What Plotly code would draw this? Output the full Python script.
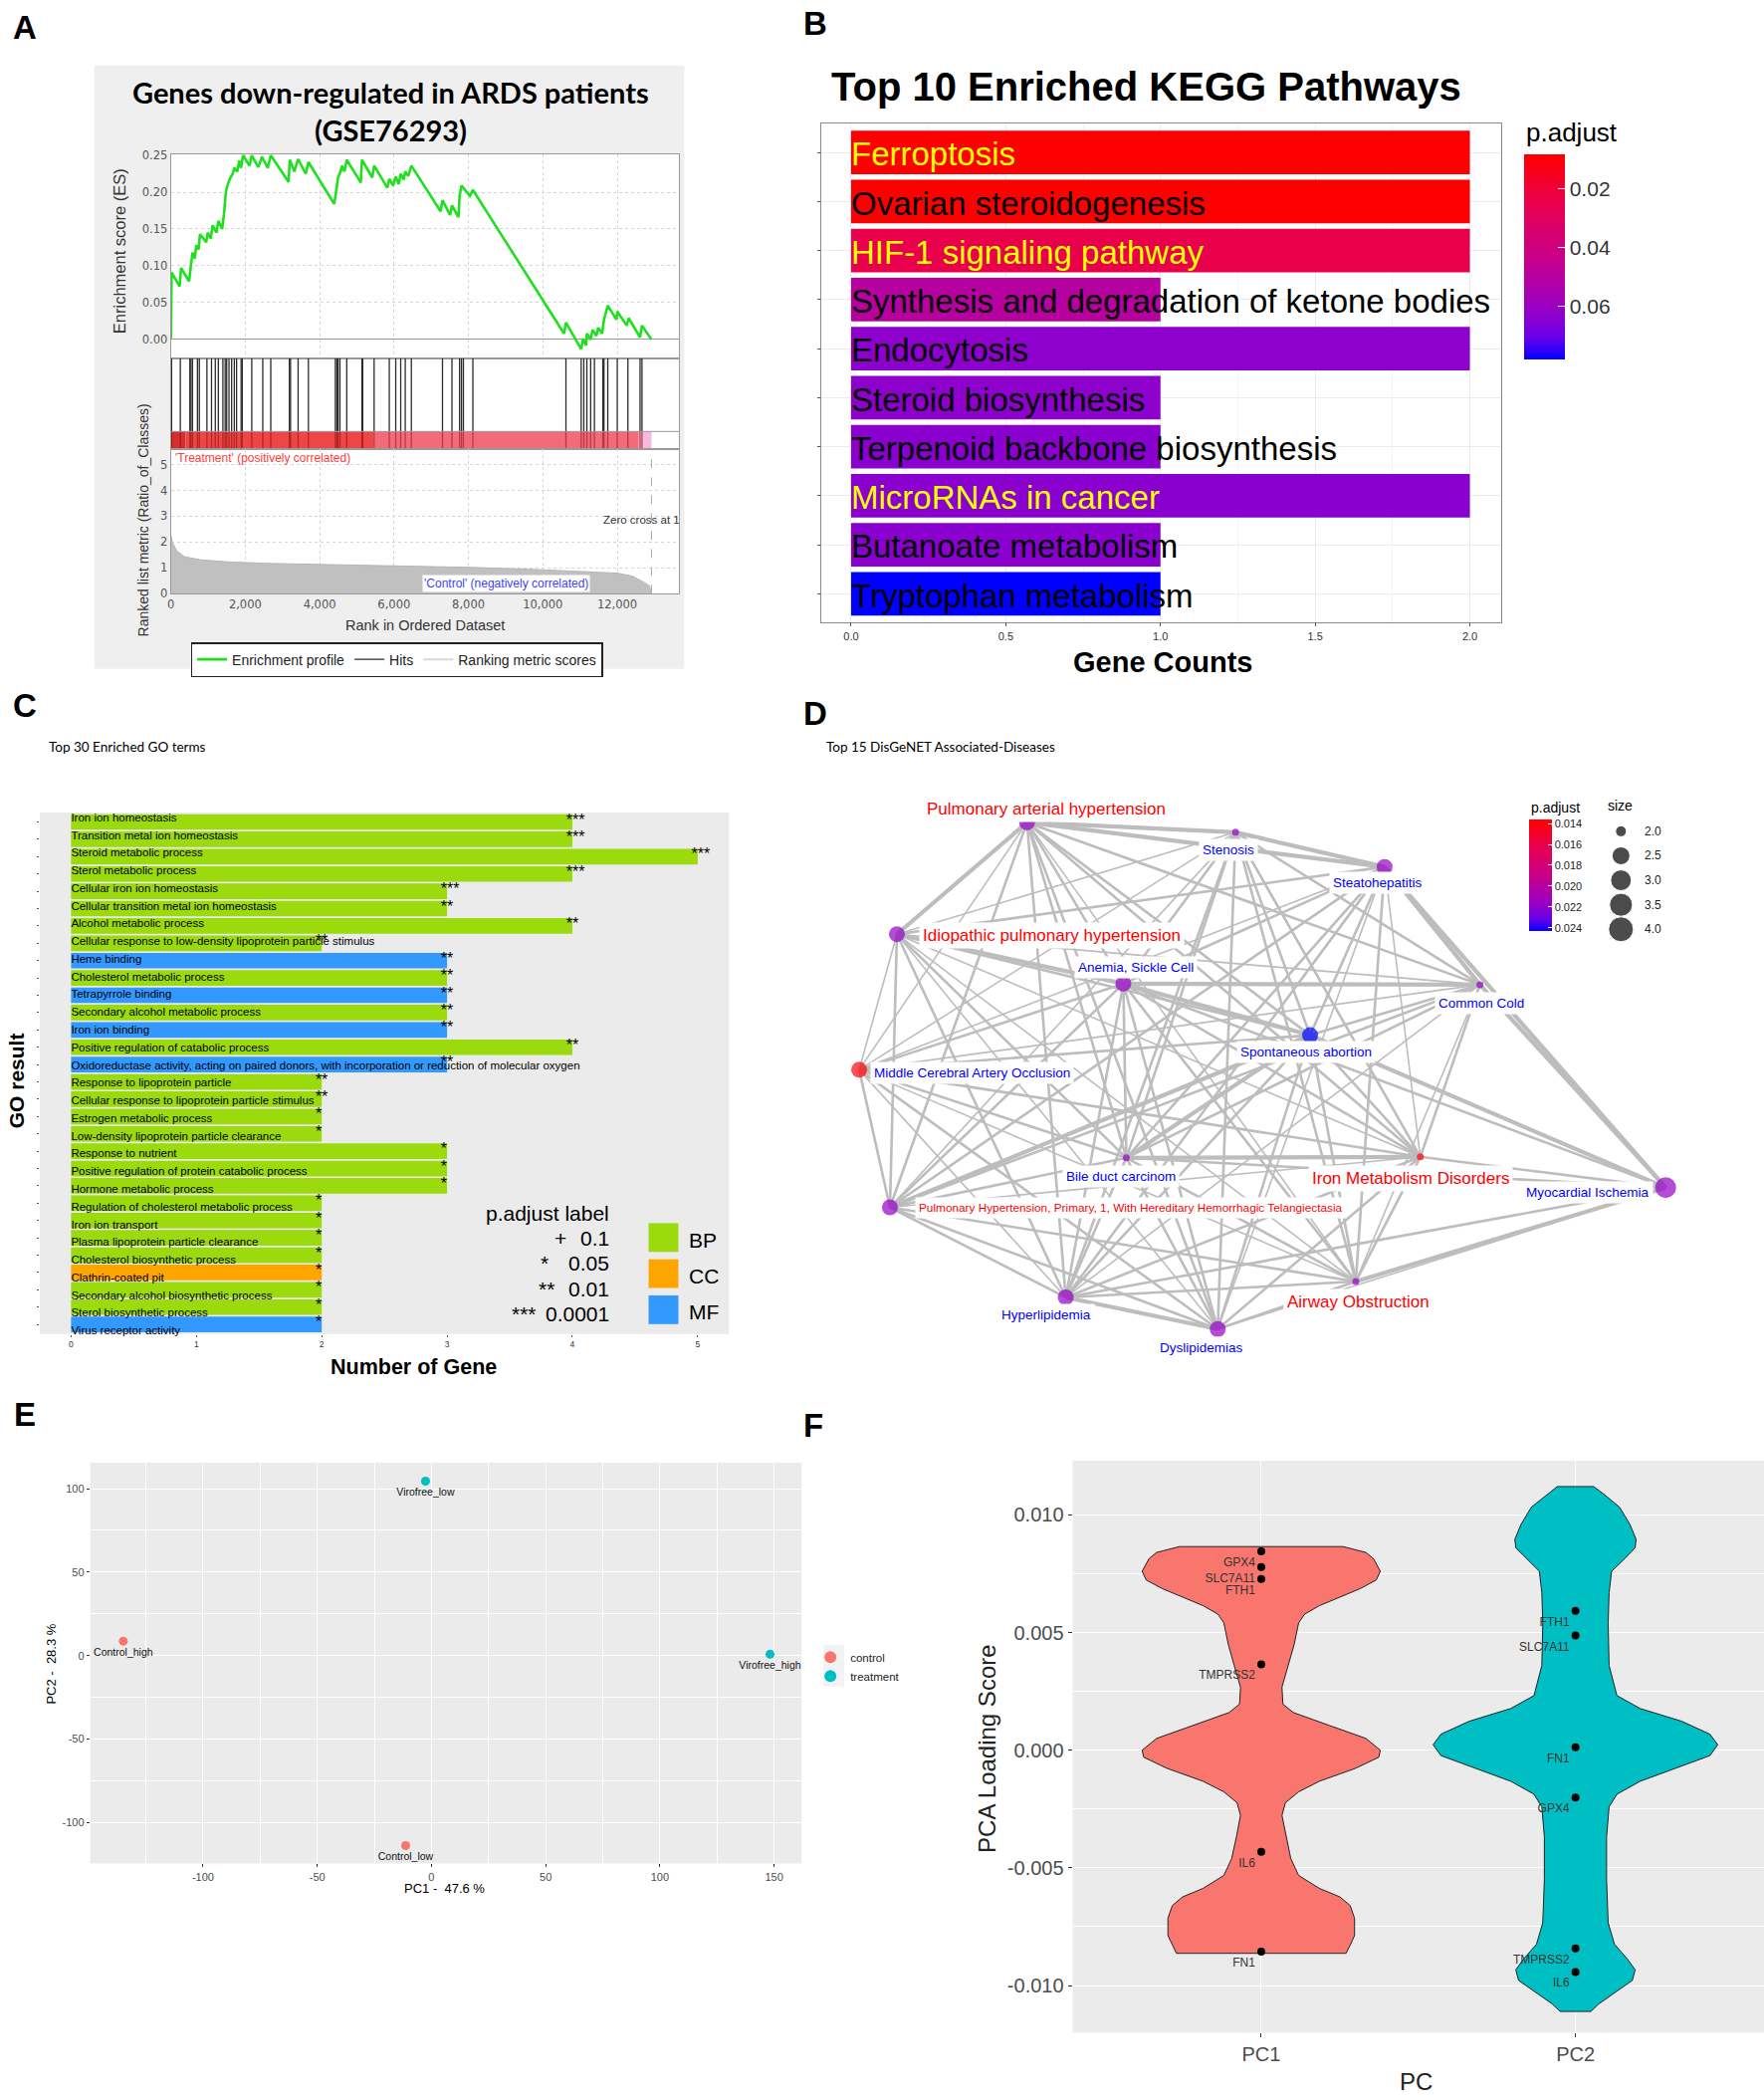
import plotly.graph_objects as go

W, H = 1772, 2108
SANS = "Liberation Sans, Arial, sans-serif"
CAL = "Lato, sans-serif"
JAVA = "DejaVu Sans, sans-serif"

# ---------------- A: GSEA running enrichment ----------------
es_rank = [0, 20, 235, 276, 490, 531, 582, 643, 684, 746, 786, 950, 991, 1072, 1123, 1226,
           1277, 1379, 1430, 1481, 1532, 1603, 1665, 1706, 1787, 1838, 1889, 1940, 2114, 2175,
           2349, 2451, 2604, 2686, 3166, 3197, 3319, 3421, 3626, 3697, 4392, 4443, 4494, 4565,
           4596, 4667, 4729, 5106, 5137, 5413, 5464, 5821, 5872, 5975, 6046, 6128, 6179, 6260,
           6301, 6383, 6465, 7251, 7302, 7506, 7557, 7731, 7762, 7813, 8038, 8119, 10570, 10621,
           11030, 11081, 11163, 11183, 11285, 11336, 11439, 11490, 11592, 11643, 11745, 11980,
           12000, 12255, 12307, 12613, 12664, 12920]
es_score = [0.000, 0.091, 0.072, 0.097, 0.079, 0.099, 0.118, 0.110, 0.128, 0.122, 0.143, 0.132,
            0.145, 0.137, 0.155, 0.145, 0.161, 0.150, 0.171, 0.201, 0.211, 0.220, 0.225, 0.233,
            0.228, 0.243, 0.233, 0.250, 0.236, 0.250, 0.234, 0.248, 0.233, 0.250, 0.214, 0.244,
            0.228, 0.245, 0.225, 0.241, 0.184, 0.201, 0.220, 0.228, 0.236, 0.228, 0.244, 0.213,
            0.244, 0.220, 0.236, 0.206, 0.218, 0.209, 0.221, 0.211, 0.225, 0.217, 0.228, 0.222,
            0.236, 0.174, 0.189, 0.169, 0.182, 0.166, 0.195, 0.209, 0.195, 0.203, 0.008, 0.023,
            -0.013, 0.000, -0.008, 0.008, 0.000, 0.013, 0.005, 0.016, 0.008, 0.027, 0.046, 0.027,
            0.038, 0.019, 0.029, 0.003, 0.019, 0.000]
hit_rank = [20, 255, 511, 541, 582, 715, 766, 970, 1093, 1195, 1277, 1399, 1460, 1501, 1563,
            1634, 1706, 1767, 1889, 1920, 2175, 2471, 2686, 3186, 3217, 3421, 3697, 4422, 4463,
            4494, 4545, 4729, 5137, 5158, 5464, 5872, 6046, 6179, 6301, 6465, 7302, 7557, 7762,
            7813, 7864, 8119, 10621, 11030, 11101, 11183, 11285, 11387, 11612, 11643, 11745,
            12000, 12286, 12613, 12664]
metric_rank = [0, 51, 153, 357, 766, 1481, 2502, 4034, 6077, 8119, 9651, 11183, 12000, 12409,
               12715, 12869, 12920]
metric_value = [2.27, 1.97, 1.67, 1.44, 1.32, 1.24, 1.18, 1.14, 1.08, 1.02, 0.95, 0.86, 0.80,
                0.68, 0.45, 0.30, 0.0]
strip_edges = [0, 400, 5460, 12560, 12700, 12920]
zero_cross = 12920

# ---------------- B: KEGG ----------------
kegg_terms = ["Ferroptosis", "Ovarian steroidogenesis", "HIF-1 signaling pathway",
              "Synthesis and degradation of ketone bodies", "Endocytosis", "Steroid biosynthesis",
              "Terpenoid backbone biosynthesis", "MicroRNAs in cancer", "Butanoate metabolism",
              "Tryptophan metabolism"]
kegg_counts = [2, 2, 2, 1, 2, 1, 1, 2, 1, 1]
kegg_padj = [0.0081, 0.0083, 0.0251, 0.0502, 0.0630, 0.0630, 0.0640, 0.0640, 0.0640, 0.0783]

# ---------------- C: GO terms ----------------
go_terms = ["Iron ion homeostasis", "Transition metal ion homeostasis", "Steroid metabolic process",
            "Sterol metabolic process", "Cellular iron ion homeostasis",
            "Cellular transition metal ion homeostasis", "Alcohol metabolic process",
            "Cellular response to low-density lipoprotein particle stimulus", "Heme binding",
            "Cholesterol metabolic process", "Tetrapyrrole binding",
            "Secondary alcohol metabolic process", "Iron ion binding",
            "Positive regulation of catabolic process",
            "Oxidoreductase activity, acting on paired donors, with incorporation or reduction of molecular oxygen",
            "Response to lipoprotein particle", "Cellular response to lipoprotein particle stimulus",
            "Estrogen metabolic process", "Low-density lipoprotein particle clearance",
            "Response to nutrient", "Positive regulation of protein catabolic process",
            "Hormone metabolic process", "Regulation of cholesterol metabolic process",
            "Iron ion transport", "Plasma lipoprotein particle clearance",
            "Cholesterol biosynthetic process", "Clathrin-coated pit",
            "Secondary alcohol biosynthetic process", "Sterol biosynthetic process",
            "Virus receptor activity"]
go_counts = [4, 4, 5, 4, 3, 3, 4, 2, 3, 3, 3, 3, 3, 4, 3, 2, 2, 2, 2, 3, 3, 3, 2, 2, 2, 2, 2, 2, 2, 2]
go_signif = ["***", "***", "***", "***", "***", "**", "**", "**", "**", "**", "**", "**", "**", "**",
             "**", "**", "**", "*", "*", "*", "*", "*", "*", "*", "*", "*", "*", "*", "*", "*"]
go_ontology = ["BP", "BP", "BP", "BP", "BP", "BP", "BP", "BP", "MF", "BP", "MF", "BP", "MF", "BP",
               "MF", "BP", "BP", "BP", "BP", "BP", "BP", "BP", "BP", "BP", "BP", "BP", "CC", "BP",
               "BP", "MF"]
padj_label_rows = [("+", "0.1"), ("*", "0.05"), ("**", "0.01"), ("***", "0.0001")]

# ---------------- D: DisGeNET network ----------------
disease_names = ["Pulmonary arterial hypertension", "Stenosis", "Steatohepatitis",
                 "Idiopathic pulmonary hypertension", "Anemia, Sickle Cell", "Common Cold",
                 "Spontaneous abortion", "Middle Cerebral Artery Occlusion", "Bile duct carcinom",
                 "Iron Metabolism Disorders", "Myocardial Ischemia",
                 "Pulmonary Hypertension, Primary, 1, With Hereditary Hemorrhagic Telangiectasia",
                 "Hyperlipidemia", "Airway Obstruction", "Dyslipidemias"]
disease_x = [200, 410, 560, 69, 297, 656, 485, 31, 300, 596, 843, 62, 239, 531, 392]
disease_y = [545, 535, 500, 432, 382, 381, 330, 295, 206, 207, 176, 156, 65, 81, 33]
disease_padj = [0.0218, 0.0218, 0.0218, 0.0218, 0.0218, 0.0218, 0.0243, 0.0139, 0.0218, 0.0140,
                0.0218, 0.0218, 0.0218, 0.0218, 0.0218]
disease_size = [3, 2, 3, 3, 3, 2, 3, 3, 2, 2, 4, 3, 3, 2, 3]
disease_edges = [
    (0, 1, 3), (0, 2, 3), (0, 3, 3), (0, 4, 2), (0, 5, 2), (0, 6, 2), (0, 7, 1), (0, 8, 2),
    (0, 9, 2), (0, 11, 2), (0, 12, 2), (0, 13, 1), (0, 14, 2),
    (1, 2, 3), (1, 3, 1), (1, 4, 2), (1, 5, 2), (1, 6, 2), (1, 7, 1), (1, 8, 2), (1, 9, 2),
    (1, 11, 1), (1, 12, 2), (1, 13, 2), (1, 14, 2),
    (2, 3, 2), (2, 4, 2), (2, 5, 3), (2, 6, 2), (2, 7, 1), (2, 8, 2), (2, 9, 1), (2, 10, 3),
    (2, 11, 2), (2, 12, 2), (2, 13, 2), (2, 14, 1),
    (3, 4, 3), (3, 5, 1), (3, 6, 2), (3, 7, 1), (3, 8, 2), (3, 9, 1), (3, 11, 2), (3, 12, 2),
    (3, 13, 1), (3, 14, 1),
    (4, 5, 3), (4, 6, 3), (4, 7, 2), (4, 8, 2), (4, 9, 2), (4, 10, 2), (4, 11, 2), (4, 12, 2),
    (4, 13, 2), (4, 14, 2),
    (5, 6, 2), (5, 7, 1), (5, 8, 2), (5, 9, 2), (5, 10, 3), (5, 11, 2), (5, 12, 1), (5, 13, 1),
    (6, 7, 2), (6, 8, 3), (6, 9, 2), (6, 10, 3), (6, 11, 3), (6, 12, 2), (6, 13, 2), (6, 14, 2),
    (7, 8, 2), (7, 9, 2), (7, 11, 2), (7, 12, 1), (7, 13, 1), (7, 14, 2),
    (8, 9, 3), (8, 10, 2), (8, 11, 2), (8, 12, 2), (8, 13, 2), (8, 14, 2),
    (9, 10, 2), (9, 11, 1), (9, 12, 2), (9, 13, 2), (9, 14, 2),
    (10, 12, 2), (10, 13, 3), (10, 14, 1),
    (11, 12, 2), (11, 13, 2), (11, 14, 2),
    (12, 13, 2), (12, 14, 3),
    (13, 14, 2),
]
size_legend_values = [2.0, 2.5, 3.0, 3.5, 4.0]

# ---------------- E: sample PCA ----------------
sample_names = ["Virofree_low", "Control_high", "Virofree_high", "Control_low"]
sample_pc1 = [-2.6, -134.9, 148.2, -11.3]
sample_pc2 = [104.5, 8.7, 0.8, -113.8]
sample_group = ["treatment", "control", "treatment", "control"]

# ---------------- F: PCA loadings ----------------
gene_names = ["GPX4", "SLC7A11", "FTH1", "TMPRSS2", "IL6", "FN1"]
gene_pc1 = [0.00845, 0.00778, 0.00727, 0.00365, -0.00432, -0.00856]
gene_pc2 = [-0.00201, 0.00487, 0.00592, -0.00842, -0.00942, 0.00012]
pc1_violin_y = [0.00865, 0.0084, 0.00814, 0.0076, 0.00723, 0.00687, 0.0065, 0.00614, 0.00578,
                0.00541, 0.0045, 0.0036, 0.00268, 0.00196, 0.0016, 0.00105, 0.0005, 0.0, -0.0003,
                -0.00077, -0.00132, -0.00177, -0.00223, -0.00277, -0.00368, -0.0046, -0.00532,
                -0.00587, -0.00623, -0.0066, -0.00714, -0.00787, -0.00823, -0.00863]
pc1_violin_w = [0.26, 0.333, 0.357, 0.379, 0.366, 0.316, 0.25, 0.185, 0.138, 0.119, 0.105, 0.086,
                0.066, 0.069, 0.102, 0.217, 0.333, 0.379, 0.374, 0.3, 0.185, 0.119, 0.077, 0.066,
                0.079, 0.094, 0.119, 0.185, 0.25, 0.283, 0.297, 0.297, 0.285, 0.27]
pc2_violin_y = [0.0112, 0.01088, 0.01033, 0.0096, 0.00896, 0.0086, 0.00814, 0.0076, 0.00669,
                0.00541, 0.0036, 0.00232, 0.00177, 0.00123, 0.00068, 0.00023, -0.00023, -0.00077,
                -0.00132, -0.00187, -0.00241, -0.00368, -0.0055, -0.00733, -0.00824, -0.00887,
                -0.00933, -0.00978, -0.01024, -0.01078, -0.0111]
pc2_violin_w = [0.058, 0.09, 0.14, 0.173, 0.193, 0.19, 0.157, 0.115, 0.107, 0.104, 0.107, 0.132,
                0.206, 0.338, 0.428, 0.453, 0.428, 0.321, 0.206, 0.132, 0.107, 0.099, 0.099, 0.104,
                0.124, 0.165, 0.19, 0.181, 0.132, 0.074, 0.049]


# ---------------- helpers ----------------
def px(x):
    return x / W


def py(y):
    return 1 - y / H


def xdom(a, b):
    return [a / W, b / W]


def ydom(top, bottom):
    return [1 - bottom / H, 1 - top / H]


# colour scale for p.adjust (values are negated so low p sits on top of the bar)
PADJ_SCALE = [[0, "#0000FF"], [0.1, "#6400EA"], [0.25, "#9A00C3"], [0.5, "#C90088"],
              [0.75, "#E8004F"], [1, "#FF0000"]]
ONT_COLORS = {"BP": "#9BDA0D", "CC": "#FFA500", "MF": "#3399FF"}

fig = go.Figure()
ann = []
shapes = []


def note(text, x, y, size, color="#000", family=SANS, xanchor="center", yanchor="middle",
         angle=0, bold=False, **kw):
    ann.append(dict(text="<b>%s</b>" % text if bold else text, x=px(x), y=py(y), xref="paper",
                    yref="paper", showarrow=False, textangle=angle, xanchor=xanchor,
                    yanchor=yanchor, font=dict(size=size, color=color, family=family), **kw))


# ================= A =================
fig.add_trace(go.Scatter(x=es_rank, y=es_score, mode="lines", name="Enrichment profile",
                         line=dict(color="#1FE01F", width=2.6), xaxis="x", yaxis="y",
                         legend="legend"))
hx, hy = [], []
sx, sy = [], []
for r in hit_rank:
    hx += [r, r, None]
    hy += [0.196, 1, None]
    sx += [r, r, None]
    sy += [0, 0.196, None]
fig.add_trace(go.Scatter(x=hx, y=hy, mode="lines", name="Hits",
                         line=dict(color="#2B2B2B", width=1.3), xaxis="x2", yaxis="y2",
                         legend="legend"))
fig.add_trace(go.Scatter(x=[None], y=[None], mode="lines", name="Ranking metric scores",
                         line=dict(color="#D9D9D9", width=2), xaxis="x3", yaxis="y3",
                         legend="legend"))
strip_colors = ["#D42F2F", "#EE4646", "#F36B77", "#F59AB5", "#F6B8E0"]
fig.add_trace(go.Bar(orientation="h", base=strip_edges[:-1],
                     x=[b - a for a, b in zip(strip_edges[:-1], strip_edges[1:])],
                     y=[0.098] * (len(strip_edges) - 1), width=0.196,
                     marker=dict(color=strip_colors, line=dict(width=0)),
                     xaxis="x2", yaxis="y2", showlegend=False))
fig.add_trace(go.Scatter(x=sx, y=sy, mode="lines", line=dict(color="rgba(110,0,0,0.45)", width=1.3),
                         xaxis="x2", yaxis="y2", showlegend=False))
fig.add_trace(go.Scatter(x=metric_rank, y=metric_value, mode="lines", fill="tozeroy",
                         fillcolor="#C0C0C0", line=dict(color="#B5B5B5", width=1),
                         xaxis="x3", yaxis="y3", showlegend=False))

shapes.append(dict(type="rect", xref="paper", yref="paper", x0=px(91), x1=px(685), y0=py(670),
                   y1=py(60), fillcolor="#EFEFEF", line=dict(width=0), layer="below"))
for xa, ya in [("x", "y"), ("x2", "y2"), ("x3", "y3")]:
    shapes.append(dict(type="rect", xref=xa + " domain", yref=ya + " domain", x0=0, x1=1, y0=0,
                       y1=1, fillcolor="white", line=dict(width=0), layer="below"))
shapes.append(dict(type="line", xref="x2 domain", yref="y2", x0=0, x1=1, y0=0.196, y1=0.196,
                   line=dict(color="#999", width=1)))
shapes.append(dict(type="line", xref="x3", yref="y3 domain", x0=zero_cross, x1=zero_cross, y0=0,
                   y1=1, line=dict(color="#AAAAAA", width=1, dash="dash")))

note("Genes down-regulated in ARDS patients", 389, 87, 29, family=CAL, bold=True)
note("(GSE76293)", 389, 125, 29, family=CAL, bold=True)
note("Enrichment score (ES)", 117, 248, 16.5, color="#333", angle=-90)
note("Ranked list metric (Ratio_of_Classes)", 140, 520, 14, color="#333", angle=-90)
note("Rank in Ordered Dataset", 424, 626, 14.5, color="#333")
note("'Treatment' (positively correlated)", 170, 457, 12, color="#FF3B3B", xanchor="left")
note("Zero cross at 1", 601, 519, 11.5, color="#333", xanchor="left")
note("'Control' (negatively correlated)", 506, 584, 12, color="#4040FF", bgcolor="white")

# ================= B =================
kegg_pos = list(range(len(kegg_terms)))
kegg_label_colors = ["#FFFF00", "#000000", "#FFFF00", "#000000", "#000000", "#000000",
                     "#000000", "#FFFF00", "#000000", "#000000"]
fig.add_trace(go.Bar(orientation="h", x=kegg_counts, y=kegg_pos, width=0.89,
                     marker=dict(color=[-p for p in kegg_padj], coloraxis="coloraxis",
                                 line=dict(width=0)),
                     xaxis="x4", yaxis="y4", showlegend=False))
fig.add_trace(go.Scatter(x=[0] * len(kegg_terms), y=[i + 0.1 for i in kegg_pos], mode="text",
                         text=kegg_terms, textposition="middle right",
                         textfont=dict(size=33, color=kegg_label_colors, family=SANS),
                         xaxis="x4", yaxis="y4", showlegend=False, cliponaxis=False))
note("Top 10 Enriched KEGG Pathways", 1150, 81, 40, bold=True)
note("Gene Counts", 1167, 663, 29, bold=True)
note("p.adjust", 1530, 128, 26, xanchor="left")

# ================= C =================
go_pos = list(range(len(go_terms)))
fig.add_trace(go.Bar(orientation="h", x=go_counts, y=go_pos, width=0.9,
                     marker=dict(color=[ONT_COLORS[o] for o in go_ontology], line=dict(width=0)),
                     xaxis="x5", yaxis="y5", showlegend=False))
n_go = len(go_terms)
fig.add_trace(go.Scatter(x=[0] * n_go, y=[i - 0.21 + 0.62 * i / (n_go - 1) for i in go_pos],
                         mode="text", text=go_terms, textposition="middle right",
                         textfont=dict(size=11.5, color="#000", family=SANS),
                         xaxis="x5", yaxis="y5", showlegend=False, cliponaxis=False))
fig.add_trace(go.Scatter(x=[c - 0.05 for c in go_counts], y=[i - 0.05 for i in go_pos],
                         mode="text", text=go_signif, textposition="middle right",
                         textfont=dict(size=16, color="#000", family=SANS),
                         xaxis="x5", yaxis="y5", showlegend=False, cliponaxis=False))
shapes.append(dict(type="rect", xref="x5 domain", yref="y5 domain", x0=0, x1=1, y0=0, y1=1,
                   fillcolor="#EBEBEB", line=dict(width=0), layer="below"))
note("Top 30 Enriched GO terms", 43, 749, 13.5, family=CAL, xanchor="left")
note("GO result", 12, 1086, 21, angle=-90, bold=True)
note("Number of Gene", 412, 1375, 21.5, bold=True)
note("p.adjust label", 611, 1220, 21, xanchor="right")
sym_right = [568, 550, 556, 538]
for k, (sym, val) in enumerate(padj_label_rows):
    yy = 1245 + k * 25.7
    note(sym, sym_right[k], yy, 21, xanchor="right")
    note(val, 611, yy, 21, xanchor="right")
for k, ont in enumerate(["BP", "CC", "MF"]):
    top = 1230 + k * 36.5
    shapes.append(dict(type="rect", xref="paper", yref="paper", x0=px(649), x1=px(679),
                       y0=py(top + 29), y1=py(top), fillcolor=ONT_COLORS[ont],
                       line=dict(width=0)))
    note(ont, 688, top + 17, 21, xanchor="left")

# ================= D =================
edge_widths = {1: 1.6, 2: 2.6, 3: 4.2}
for lvl in (1, 2, 3):
    ex, ey = [], []
    for a, b, w in disease_edges:
        if w == lvl:
            ex += [disease_x[a], disease_x[b], None]
            ey += [disease_y[a], disease_y[b], None]
    fig.add_trace(go.Scatter(x=ex, y=ey, mode="lines", line=dict(color="#BDBDBD",
                                                                   width=edge_widths[lvl]),
                             xaxis="x6", yaxis="y6", showlegend=False, hoverinfo="skip"))
node_diam = {2: 7, 3: 16, 4: 21}
fig.add_trace(go.Scatter(x=disease_x, y=disease_y, mode="markers",
                         marker=dict(size=[node_diam[s] for s in disease_size],
                                     color=[-p for p in disease_padj], coloraxis="coloraxis2",
                                     line=dict(width=0)),
                         xaxis="x6", yaxis="y6", showlegend=False, text=disease_names))
label_dx = [19, -7, -7, 156, 13, 1, -4, 113, -5, -10, -78, 242, -20, 3, -16]
label_dy = [-13, 18, 16, 1, -16, 19, 17, 3, 19, 22, 5, 0, 18, 20, 19]
label_red = [True, False, False, True, False, False, False, False, False, True, False, True,
             False, True, False]
for i, name in enumerate(disease_names):
    if label_red[i]:
        size, col = (11.8 if len(name) > 40 else 17), "#FF0000"
    else:
        size, col = 13.5, "#0000FF"
    ann.append(dict(text=name, x=disease_x[i], y=disease_y[i], xref="x6", yref="y6",
                    xshift=label_dx[i], yshift=-label_dy[i], showarrow=False, bgcolor="white",
                    borderpad=3, font=dict(size=size, color=col, family=SANS)))


def legend_diam(s):
    return 11 + 14 * ((s - 2) / 2) ** 0.5


fig.add_trace(go.Scatter(x=[0] * len(size_legend_values), y=size_legend_values, mode="markers",
                         marker=dict(size=[legend_diam(s) for s in size_legend_values],
                                     color="black"),
                         xaxis="x7", yaxis="y7", showlegend=False, hoverinfo="skip"))
for s in size_legend_values:
    ann.append(dict(text="%.1f" % s, x=px(1650), y=s, xref="paper", yref="y7", showarrow=False,
                    xanchor="left", font=dict(size=12, color="#222", family=SANS)))
note("Top 15 DisGeNET Associated-Diseases", 826, 749, 13.5, family=CAL, xanchor="left")
note("p.adjust", 1535, 810, 14, xanchor="left")
note("size", 1613, 808, 14, xanchor="left")

# ================= E =================
group_colors = {"control": "#F8766D", "treatment": "#00BFC4"}
for grp in ["control", "treatment"]:
    idx = [i for i, g in enumerate(sample_group) if g == grp]
    fig.add_trace(go.Scatter(x=[sample_pc1[i] for i in idx], y=[sample_pc2[i] for i in idx],
                             mode="markers+text", text=[sample_names[i] for i in idx],
                             textposition="bottom center",
                             textfont=dict(size=10.5, color="#111", family=SANS),
                             marker=dict(size=9, color=group_colors[grp]), name=grp,
                             xaxis="x8", yaxis="y8", legend="legend2", cliponaxis=False))
shapes.append(dict(type="rect", xref="x8 domain", yref="y8 domain", x0=0, x1=1, y0=0, y1=1,
                   fillcolor="#EBEBEB", line=dict(width=0), layer="below"))
# light key background behind the E legend symbols
shapes.append(dict(type="rect", xref="paper", yref="paper", x0=px(825), x1=px(846),
                   y0=py(1698), y1=py(1656), fillcolor="#F2F2F2", line=dict(width=0),
                   layer="below"))
note("PC1 -  47.6 %", 443, 1902, 13)
note("PC2 -  28.3 %", 48, 1675, 13, angle=-90)

# ================= F =================
for cat, vy, vw, col in [(1, pc1_violin_y, pc1_violin_w, "#F8766D"),
                         (2, pc2_violin_y, pc2_violin_w, "#00BFC4")]:
    xs = [cat + w for w in vw] + [cat - w for w in reversed(vw)] + [cat + vw[0]]
    ys = list(vy) + list(reversed(vy)) + [vy[0]]
    fig.add_trace(go.Scatter(x=xs, y=ys, mode="lines", fill="toself", fillcolor=col,
                             line=dict(color="#222", width=1), xaxis="x9", yaxis="y9",
                             showlegend=False, hoverinfo="skip"))
for cat, vals in [(1, gene_pc1), (2, gene_pc2)]:
    fig.add_trace(go.Scatter(x=[cat] * len(vals), y=vals, mode="markers+text", text=gene_names,
                             textposition="bottom left",
                             textfont=dict(size=12, color="#333", family=SANS),
                             marker=dict(size=8, color="black"), xaxis="x9", yaxis="y9",
                             showlegend=False))
shapes.append(dict(type="rect", xref="x9 domain", yref="y9 domain", x0=0, x1=1, y0=0, y1=1,
                   fillcolor="#EBEBEB", line=dict(width=0), layer="below"))
note("PCA Loading Score", 989, 1761, 24, color="#222", angle=-90)
note("PC", 1422, 2097, 24, color="#222")

# panel letters
for letter, lx, ly in [("A", 21, 22), ("B", 817, 18), ("C", 21, 707), ("D", 817, 715),
                       ("E", 21, 1423), ("F", 815, 1434)]:
    note(letter, lx, ly, 33, bold=True)

# ================= layout =================
gsea_grid = dict(showgrid=True, gridcolor="#D6D6D6", griddash="dot", gridwidth=1)
gsea_frame = dict(showline=True, linecolor="#999", mirror=True, linewidth=1)
gsea_x = dict(range=[0, 13670], domain=xdom(168, 680))
tick_g = dict(family=JAVA, size=11.5, color="#555")

fig.update_layout(
    width=W, height=H, margin=dict(l=0, r=0, t=0, b=0),
    paper_bgcolor="white", plot_bgcolor="rgba(0,0,0,0)",
    font=dict(family=SANS, color="#000"), barmode="overlay",
    xaxis=dict(**gsea_x, anchor="y", showticklabels=False, ticks="", dtick=2000, tick0=0,
               zeroline=False, **gsea_grid, **gsea_frame),
    yaxis=dict(domain=ydom(150, 356), anchor="x", range=[-0.0255, 0.2513], dtick=0.05,
               tickformat=".2f", tickfont=tick_g, ticks="", zeroline=True,
               zerolinecolor="#9A9A9A", zerolinewidth=1.3, **gsea_grid, **gsea_frame),
    xaxis2=dict(**gsea_x, anchor="y2", showticklabels=False, ticks="", showgrid=False,
                zeroline=False, **gsea_frame),
    yaxis2=dict(domain=ydom(356, 448), anchor="x2", range=[0, 1], showticklabels=False,
                ticks="", showgrid=False, zeroline=False, **gsea_frame),
    xaxis3=dict(**gsea_x, anchor="y3", dtick=2000, tick0=0, tickformat=",d", tickfont=tick_g,
                ticks="", zeroline=False, **gsea_grid, **gsea_frame),
    yaxis3=dict(domain=ydom(448, 594), anchor="x3", range=[0, 5.59], dtick=1, tickfont=tick_g,
                ticks="", zeroline=False, **gsea_grid, **gsea_frame),
    xaxis4=dict(domain=xdom(823, 1507), anchor="y4", range=[-0.096, 2.1],
                tickvals=[0, 0.5, 1, 1.5, 2], ticktext=["0.0", "0.5", "1.0", "1.5", "2.0"],
                tickfont=dict(size=11, color="#333"), ticks="outside", ticklen=3,
                tickcolor="#555", showgrid=True, gridcolor="#EBEBEB",
                minor=dict(dtick=0.25, showgrid=True, gridcolor="#F4F4F4"), zeroline=False,
                showline=True, linecolor="#8A8A8A", mirror=True, linewidth=1.3),
    yaxis4=dict(domain=ydom(119, 623), anchor="x4", range=[9.585, -0.585], tickvals=kegg_pos,
                showticklabels=False, ticks="outside", ticklen=3, tickcolor="#555",
                showgrid=True, gridcolor="#EBEBEB", zeroline=False, showline=True,
                linecolor="#8A8A8A", mirror=True, linewidth=1.3),
    xaxis5=dict(domain=xdom(36, 730), anchor="y5", range=[-0.25, 5.25], dtick=1, tick0=0,
                tickfont=dict(size=8.5, color="#333"), ticks="outside", ticklen=2,
                tickcolor="#555", showgrid=False, zeroline=False),
    yaxis5=dict(domain=ydom(815, 1342), anchor="x5", range=[29.55, -0.55], tickvals=go_pos,
                showticklabels=False, ticks="outside", ticklen=2, tickcolor="#555",
                showgrid=False, zeroline=False),
    xaxis6=dict(domain=xdom(830, 1700), anchor="y6", range=[0, 870], visible=False),
    yaxis6=dict(domain=ydom(790, 1370), anchor="x6", range=[0, 580], visible=False),
    xaxis7=dict(domain=xdom(1614, 1642), anchor="y7", range=[-1, 1], visible=False),
    yaxis7=dict(domain=ydom(815, 950), anchor="x7", range=[4.343, 1.616], visible=False),
    xaxis8=dict(domain=xdom(87, 803), anchor="y8", range=[-149.3, 162],
                tickvals=[-100, -50, 0, 50, 100, 150],
                ticktext=["-100", "-50", "0", "50", "100", "150"],
                tickfont=dict(size=11, color="#4D4D4D"), ticks="outside", ticklen=3,
                tickcolor="#333", showgrid=True, gridcolor="white", gridwidth=1.2,
                minor=dict(dtick=25, showgrid=True, gridcolor="white", gridwidth=0.5),
                zeroline=False),
    yaxis8=dict(domain=ydom(1472, 1877), anchor="x8", range=[-124.5, 115.6],
                tickvals=[-100, -50, 0, 50, 100], ticktext=["-100", "-50", "0", "50", "100"],
                tickfont=dict(size=11, color="#4D4D4D"), ticks="outside", ticklen=3,
                tickcolor="#333", showgrid=True, gridcolor="white", gridwidth=1.2,
                minor=dict(dtick=25, showgrid=True, gridcolor="white", gridwidth=0.5),
                zeroline=False),
    xaxis9=dict(domain=xdom(1076, 1772), anchor="y9", range=[0.4, 2.6], tickvals=[1, 2],
                ticktext=["PC1", "PC2"], tickfont=dict(size=20, color="#4D4D4D"),
                ticks="outside", ticklen=4, tickcolor="#333", showgrid=True, gridcolor="white",
                gridwidth=1.3, zeroline=False),
    yaxis9=dict(domain=ydom(1470, 2048), anchor="x9", range=[-0.0120, 0.0123],
                tickvals=[-0.01, -0.005, 0, 0.005, 0.01],
                ticktext=["-0.010", "-0.005", "0.000", "0.005", "0.010"],
                tickfont=dict(size=20, color="#4D4D4D"), ticks="outside", ticklen=4,
                tickcolor="#333", showgrid=True, gridcolor="white", gridwidth=1.3,
                minor=dict(dtick=0.0025, showgrid=True, gridcolor="white", gridwidth=0.6),
                zeroline=False),
    coloraxis=dict(cmin=-0.0783, cmax=-0.0081, colorscale=PADJ_SCALE,
                   colorbar=dict(x=px(1530), xanchor="left", y=py(150), yanchor="top",
                                 len=207 / H, lenmode="fraction", thickness=41,
                                 thicknessmode="pixels", outlinewidth=0, xpad=0, ypad=0,
                                 tickvals=[-0.02, -0.04, -0.06],
                                 ticktext=["0.02", "0.04", "0.06"], ticks="inside", ticklen=7,
                                 tickcolor="white", tickfont=dict(size=21, color="#333"))),
    coloraxis2=dict(cmin=-0.0243, cmax=-0.0136, colorscale=PADJ_SCALE,
                    colorbar=dict(x=px(1535), xanchor="left", y=py(822), yanchor="top",
                                  len=113 / H, lenmode="fraction", thickness=23,
                                  thicknessmode="pixels", outlinewidth=0, xpad=0, ypad=0,
                                  tickvals=[-0.014, -0.016, -0.018, -0.020, -0.022, -0.024],
                                  ticktext=["0.014", "0.016", "0.018", "0.020", "0.022", "0.024"],
                                  ticks="inside", ticklen=4, tickcolor="white",
                                  tickfont=dict(size=11, color="#222"))),
    legend=dict(x=px(188), y=py(643), xanchor="left", yanchor="top", orientation="h",
                bordercolor="#222", borderwidth=1.5, bgcolor="white",
                font=dict(size=14, color="#222", family=SANS), itemwidth=30),
    legend2=dict(x=px(812), y=py(1654), xanchor="left", yanchor="top", orientation="v",
                 bgcolor="rgba(0,0,0,0)", font=dict(size=11.5, color="#222", family=SANS),
                 itemsizing="constant"),
    shapes=shapes, annotations=ann,
)

# drop the browser's default body margin so the figure sits at the page origin
fig.write_html("out.html", config={"displayModeBar": False},
               post_script="document.body.style.margin='0px';")
